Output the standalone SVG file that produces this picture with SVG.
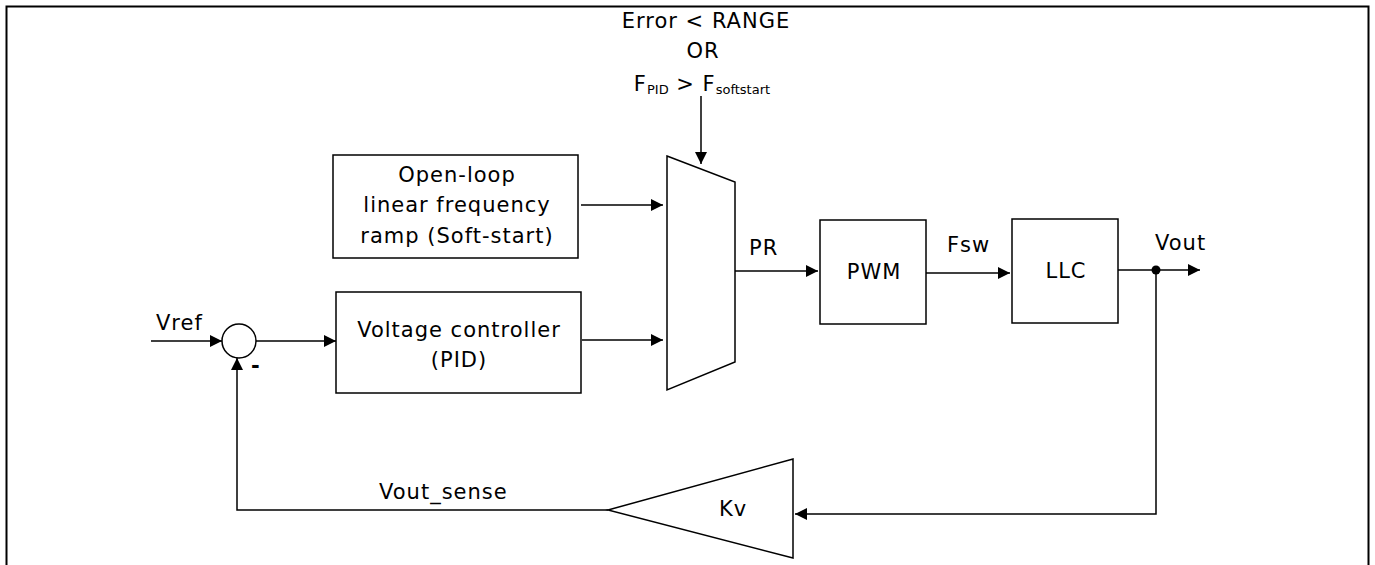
<svg xmlns="http://www.w3.org/2000/svg" width="1375" height="565" viewBox="0 0 1375 565">
<style>
text{font-family:"DejaVu Sans",Verdana,sans-serif;font-size:21px;letter-spacing:1px;fill:#000}
.b{fill:#fff;stroke:#000;stroke-width:1.5}
.c{fill:none;stroke:#000;stroke-width:1.5}
.m{text-anchor:middle}
</style>
<defs>
<marker id="a" viewBox="0 0 12 12" refX="12" refY="6" markerWidth="12" markerHeight="12" markerUnits="userSpaceOnUse" orient="auto"><path d="M0,0L12,6L0,12z" fill="#000"/></marker>
</defs>
<rect width="1375" height="565" fill="#fff"/>
<path d="M6.5,575V6.5H1368.5V575" fill="none" stroke="#000" stroke-width="2"/>
<g id="cond">
<text class="m" x="706" y="28">Error &lt; RANGE</text>
<text class="m" x="703" y="58">OR</text>
<text class="m" x="702" y="91">F<tspan font-size="13" letter-spacing="0" dy="3">PID</tspan><tspan dy="-3"> &gt; F</tspan><tspan font-size="13" letter-spacing="0" dy="3">softstart</tspan></text>
</g>
<g id="mux"><path class="b" d="M667,156L735,182V362L667,390Z"/></g>
<g id="softstart"><rect class="b" x="333" y="155" width="245" height="103"/>
<text class="m" x="457" y="182">Open-loop</text>
<text class="m" x="457" y="212">linear frequency</text>
<text class="m" x="457" y="243">ramp (Soft-start)</text></g>
<g id="pid"><rect class="b" x="336" y="292" width="245" height="101"/>
<text class="m" x="459" y="337">Voltage controller</text>
<text class="m" x="459" y="367">(PID)</text></g>
<g id="sum"><circle class="b" cx="239" cy="341" r="17"/><text x="251" y="373" font-weight="bold">-</text></g>
<g id="pwm"><rect class="b" x="820" y="220" width="106" height="104"/><text class="m" x="874" y="279">PWM</text></g>
<g id="llc"><rect class="b" x="1012" y="219" width="106" height="104"/><text class="m" x="1066" y="278">LLC</text></g>
<g id="kv"><path class="b" d="M608,510L793,459V558Z"/><text class="m" x="733" y="516">Kv</text></g>
<g id="connectors">
<path class="c" d="M701,96V164" marker-end="url(#a)"/>
<path class="c" d="M581,205H663" marker-end="url(#a)"/>
<path class="c" d="M582,340H663" marker-end="url(#a)"/>
<path class="c" d="M151,341H222" marker-end="url(#a)"/>
<path class="c" d="M256,341H336" marker-end="url(#a)"/>
<path class="c" d="M735,271H818" marker-end="url(#a)"/>
<path class="c" d="M926,273H1010" marker-end="url(#a)"/>
<path class="c" d="M1118,270H1200" marker-end="url(#a)"/>
<path class="c" d="M1156,270V514H795" marker-end="url(#a)"/>
<path class="c" d="M608,510H237V358" marker-end="url(#a)"/>
<circle cx="1156" cy="270" r="4.5" fill="#000"/>
<text x="156" y="330">Vref</text>
<text x="749" y="255">PR</text>
<text x="947" y="252">Fsw</text>
<text x="1155" y="250">Vout</text>
<text x="379" y="499">Vout_sense</text>
</g>
</svg>
